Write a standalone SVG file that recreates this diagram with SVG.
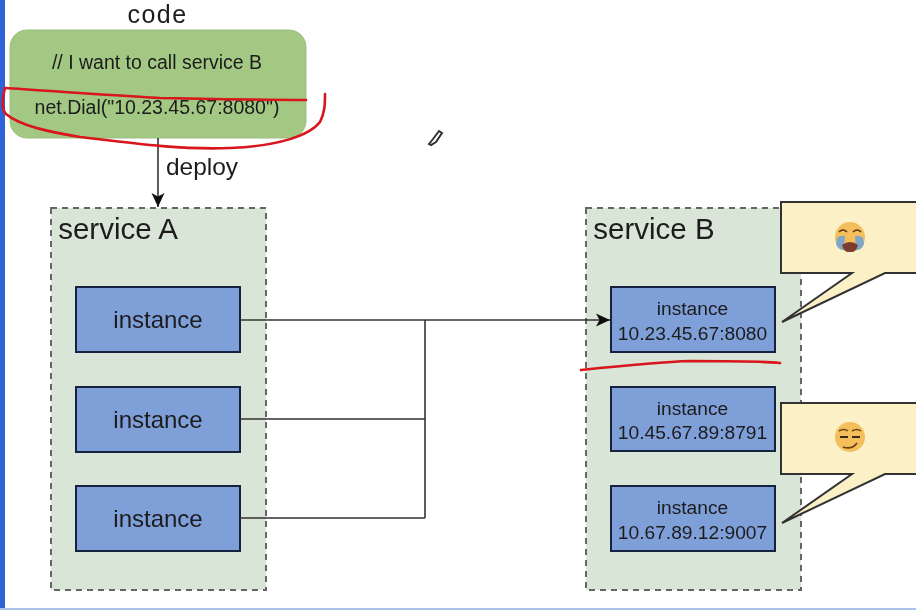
<svg xmlns="http://www.w3.org/2000/svg" width="916" height="610" viewBox="0 0 916 610">
<defs>
<marker id="arrow" markerUnits="userSpaceOnUse" markerWidth="16" markerHeight="16" refX="14" refY="8" orient="auto"><path d="M0,1.5 L14,8 L0,14.5 L3.5,8 Z" fill="#111"/></marker>
<filter id="soft" x="-5%" y="-5%" width="110%" height="110%"><feGaussianBlur stdDeviation="0.45"/></filter>
</defs>
<style>
text{font-family:"Liberation Sans",Arial,sans-serif;fill:#1c1c1c;text-anchor:middle}
.svc{fill:#d9e5d6;stroke:#666;stroke-width:2;stroke-dasharray:6 5}
.inst{fill:#7f9fd9;stroke:#14233f;stroke-width:2}
.t1{font-size:24px}
.t2{font-size:19.2px}
.t3{font-size:19.5px}
.call{fill:#fbf0c6;stroke:#333;stroke-width:2}
.red{fill:none;stroke:#d8141c;stroke-width:2.6;stroke-linecap:round;stroke-linejoin:round}
.conn{fill:none;stroke:#333;stroke-width:1.6}
</style>
<rect width="916" height="610" fill="#fff"/>
<g filter="url(#soft)">
<rect x="0" y="0" width="5" height="610" fill="#2f62d8"/>
<rect x="0" y="608" width="916" height="2" fill="#a9c4e6"/>

<g id="code">
<rect x="10" y="30" width="296" height="108" rx="17" fill="#a3c883" stroke="#9cbf80"/>
<text x="157.500" y="23" font-size="25" letter-spacing="1.500">code</text>
<text class="t3" x="157" y="69">// I want to call service B</text>
<text class="t3" x="157" y="114">net.Dial("10.23.45.67:8080")</text>
</g>

<g id="service-a">
<rect class="svc" x="51" y="208" width="215" height="382"/>
<text x="118" y="239" font-size="29.500">service A</text>
</g>
<g id="service-b">
<rect class="svc" x="586" y="208" width="215" height="382"/>
<text x="654" y="239" font-size="29.500">service B</text>
</g>

<g id="a1"><rect class="inst" x="76" y="287" width="164" height="65"/><text class="t1" x="158" y="328">instance</text></g>
<g id="a2"><rect class="inst" x="76" y="387" width="164" height="65"/><text class="t1" x="158" y="428">instance</text></g>
<g id="a3"><rect class="inst" x="76" y="486" width="164" height="65"/><text class="t1" x="158" y="527">instance</text></g>

<g id="b1"><rect class="inst" x="611" y="287" width="164" height="65"/><text class="t2" x="692.500" y="315">instance</text><text class="t2" x="692.500" y="340">10.23.45.67:8080</text></g>
<g id="b2"><rect class="inst" x="611" y="387" width="164" height="64"/><text class="t2" x="692.500" y="415">instance</text><text class="t2" x="692.500" y="439">10.45.67.89:8791</text></g>
<g id="b3"><rect class="inst" x="611" y="486" width="164" height="65"/><text class="t2" x="692.500" y="514">instance</text><text class="t2" x="692.500" y="539">10.67.89.12:9007</text></g>

<g id="connectors">
<path class="conn" d="M158,138 V207" marker-end="url(#arrow)"/>
<path class="conn" d="M240,320 H610" marker-end="url(#arrow)"/>
<path class="conn" d="M240,419 H425 M240,518 H425 M425,320 V518"/>
<text x="202" y="175" font-size="24.500">deploy</text>
</g>

<g id="callout-1">
<path class="call" d="M916,202 H781 V273 H852 L782,322 L885,273 H916"/>
<circle cx="850" cy="237" r="15" fill="#f4bf5a"/>
<path d="M837,238 q3,-3 8,-2 l-1,14 q-6,0 -8,-6 Z M863,238 q-3,-3 -8,-2 l1,14 q6,0 8,-6 Z" fill="#7fa6c9"/>
<path d="M842,245 q8,-6 16,0 q-2,8 -8,7 q-6,1 -8,-7 Z" fill="#7a3d2e"/>
<path d="M839,232 q4,-4 8,0 M853,232 q4,-4 8,0" fill="none" stroke="#5a3a1a" stroke-width="1.6"/>
</g>
<g id="callout-2">
<path class="call" d="M916,403 H781 V474 H852 L782,523 L885,474 H916"/>
<circle cx="850" cy="437" r="15" fill="#f4bf5a"/>
<path d="M839,431 q5,-3 9,0 M852,431 q5,-3 9,0" fill="none" stroke="#6b4318" stroke-width="1.5"/>
<path d="M840,437 h8 M852,437 h8" stroke="#3a2a14" stroke-width="2"/>
<path d="M843,447 q9,3 14,-4" fill="none" stroke="#6b4318" stroke-width="1.7"/>
</g>

<g id="annotations">
<path class="red" d="M5,88 C40,90 100,95 160,98 C210,99 260,100 306,100"/>
<path class="red" d="M5,88 C2,100 2,110 6,114 C20,126 50,132 80,137 C130,143 180,150 230,148 C280,146 310,135 320,122 C325,112 325,104 325,94"/>
<path class="red" d="M581,370 C620,366 660,362 690,361 C720,361 760,361 780,363"/>
<path d="M429,144 L433,139 L439,131 L442,133 L436,142 L431,145 Z" fill="#fff" stroke="#333" stroke-width="2"/>
</g>
</g>
</svg>
